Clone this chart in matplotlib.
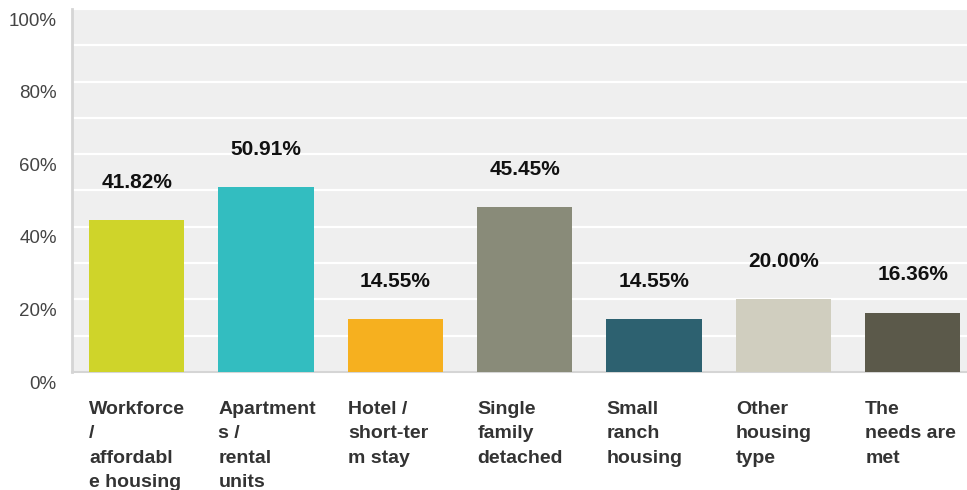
import numpy as np
import matplotlib.pyplot as plt
import matplotlib.transforms as mtransforms

plt.rcParams['font.family'] = ['Liberation Sans', 'DejaVu Sans']

# ------------------------- data ------------------------------------
categories = ['Workforce\n/\naffordabl\ne housing', 'Apartment\ns /\nrental\nunits',
              'Hotel /\nshort-ter\nm stay', 'Single\nfamily\ndetached',
              'Small\nranch\nhousing', 'Other\nhousing\ntype', 'The\nneeds are\nmet']
values = [41.82, 50.91, 14.55, 45.45, 14.55, 20.00, 16.36]
colors = ['#cfd42a', '#33bdc0', '#f6b01f', '#898b79', '#2d6170', '#d0cebf', '#5b594a']
yticks = [0, 20, 40, 60, 80, 100]
# -------------------------------------------------------------------

W, H = 967, 490
fig = plt.figure(figsize=(W/100, H/100), dpi=100)
ax = fig.add_axes([72/W, (H-372)/H, (W-72)/W, (372-9)/H])
ax.set_facecolor('#efefef')

x = np.arange(len(values))
bw = 0.735
ax.bar(x, values, width=bw, color=colors, zorder=3)

ax.set_xlim(-0.5, 6.42)
ax.set_ylim(0, 100)
ax.set_yticks(yticks)
ax.set_yticks(np.arange(10, 100, 20), minor=True)
ax.yaxis.grid(True, which='both', color='white', linewidth=1.6, zorder=0)
ax.set_yticklabels([f'{t}%' for t in yticks], fontsize=13.5, color='#444444')
ax.tick_params(axis='y', which='both', length=0, pad=11)
ax.tick_params(axis='x', length=0)
ax.set_xticks([])

# y labels sit a bit below their gridlines in the original
off = mtransforms.ScaledTranslation(0, -10/100, fig.dpi_scale_trans)
for lab in ax.get_yticklabels():
    lab.set_transform(lab.get_transform() + off)

for s in ['top', 'right']:
    ax.spines[s].set_visible(False)
ax.spines['left'].set_color('#d5d5d5')
ax.spines['left'].set_linewidth(2)
ax.spines['bottom'].set_color('#d5d5d5')
ax.spines['bottom'].set_linewidth(1.5)

for xi, v in zip(x, values):
    ax.annotate(f'{v:.2f}%', (xi, v), xytext=(0, 38), textcoords='offset pixels',
                ha='center', va='center', fontsize=15, fontweight='bold', color='#111111')

for xi, lab in zip(x, categories):
    ax.annotate(lab, (xi - bw/2, 0), xytext=(0, -29), textcoords='offset pixels',
                ha='left', va='top', fontsize=14, fontweight='bold', color='#333333',
                linespacing=1.56, annotation_clip=False)

fig.savefig('out.png', dpi=100)
